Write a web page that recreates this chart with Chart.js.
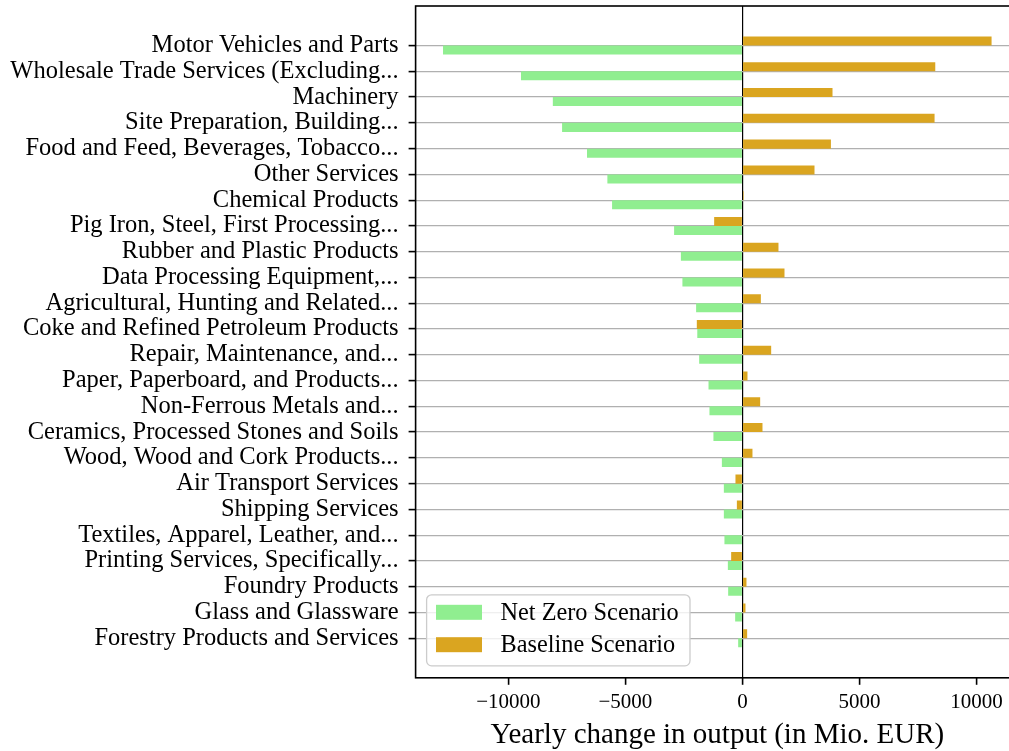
<!DOCTYPE html>
<html>
<head>
<meta charset="utf-8">
<script src="https://cdn.jsdelivr.net/npm/chart.js@4.4.0/dist/chart.umd.min.js"></script>
<style>
html, body { margin: 0; padding: 0; background: #fff; overflow: hidden; width: 1009px; height: 751px; }
canvas { display: block; }
</style>
</head>
<body>
<canvas id="c" width="1019" height="751"></canvas>
<script>
const categories = [
  'Motor Vehicles and Parts',
  'Wholesale Trade Services (Excluding...',
  'Machinery',
  'Site Preparation, Building...',
  'Food and Feed, Beverages, Tobacco...',
  'Other Services',
  'Chemical Products',
  'Pig Iron, Steel, First Processing...',
  'Rubber and Plastic Products',
  'Data Processing Equipment,...',
  'Agricultural, Hunting and Related...',
  'Coke and Refined Petroleum Products',
  'Repair, Maintenance, and...',
  'Paper, Paperboard, and Products...',
  'Non-Ferrous Metals and...',
  'Ceramics, Processed Stones and Soils',
  'Wood, Wood and Cork Products...',
  'Air Transport Services',
  'Shipping Services',
  'Textiles, Apparel, Leather, and...',
  'Printing Services, Specifically...',
  'Foundry Products',
  'Glass and Glassware',
  'Forestry Products and Services'
];
const netZero = [-12790, -9460, -8100, -7705, -6640, -5770, -5570, -2920, -2630, -2565, -1980, -1930, -1850, -1450, -1410, -1240, -880, -795, -795, -770, -624, -611, -312, -184];
const baseline = [10640, 8235, 3846, 8205, 3778, 3077, 50, -1209, 1538, 1795, 786, -1950, 1226, 214, 756, 855, 427, -299, -239, 0, -483, 171, 128, 200];
const xTicks = [-10000, -5000, 0, 5000, 10000];
const seriesNames = ['Net Zero Scenario', 'Baseline Scenario'];
const xTitle = 'Yearly change in output (in Mio. EUR)';

const NZ_COLOR = '#90ee90';
const BL_COLOR = '#daa520';
const FONT = '"Liberation Serif", "Times New Roman", serif';

// axis limits like matplotlib (5% margins)
const allVals = netZero.concat(baseline, [0]);
const lo = Math.min(...allVals), hi = Math.max(...allVals);
const span = hi - lo;
const xMin = lo - 0.05 * span, xMax = hi + 0.05 * span;
const half = 0.35;
const ySpan = (categories.length - 1) + 2 * half;
const yMin = -half - 0.05 * ySpan, yMax = categories.length - 1 + half + 0.05 * ySpan;

Chart.defaults.font.family = FONT;
Chart.defaults.color = '#000';

const framePlugin = {
  id: 'frame',
  afterDatasetsDraw(chart) {
    const { ctx, chartArea: ca } = chart;
    ctx.save();
    ctx.strokeStyle = '#000';
    ctx.lineWidth = 1.6;
    ctx.strokeRect(ca.left, ca.top, ca.right - ca.left, ca.bottom - ca.top);
    ctx.restore();
  }
};

const legendPlugin = {
  id: 'mplLegend',
  afterDraw(chart) {
    const { ctx, chartArea: ca } = chart;
    const fs = 24.3;
    const items = [
      { label: seriesNames[0], color: NZ_COLOR },
      { label: seriesNames[1], color: BL_COLOR }
    ];
    ctx.save();
    ctx.font = fs + 'px ' + FONT;
    const textW = Math.max(...items.map(i => ctx.measureText(i.label).width));
    const pad = 9.4, hl = 46, htp = 18.5;
    const w = pad + hl + htp + textW + pad + 2;
    const h = 71;
    const x = ca.left + 11, y = ca.bottom - 12 - h;
    ctx.beginPath();
    if (ctx.roundRect) ctx.roundRect(x, y, w, h, 5); else ctx.rect(x, y, w, h);
    ctx.fillStyle = 'rgba(255,255,255,0.8)';
    ctx.fill();
    ctx.strokeStyle = '#cccccc';
    ctx.lineWidth = 1.3;
    ctx.stroke();
    ctx.textBaseline = 'middle';
    ctx.textAlign = 'left';
    items.forEach((it, k) => {
      const cy = y + 17.5 + k * 32.4;
      ctx.fillStyle = it.color;
      ctx.fillRect(x + pad, cy - 7.5, hl, 15);
      ctx.fillStyle = '#000';
      ctx.fillText(it.label, x + pad + hl + htp, cy + 1);
    });
    ctx.restore();
  }
};

new Chart(document.getElementById('c'), {
  type: 'bar',
  data: {
    datasets: [
      {
        label: seriesNames[1],
        data: baseline.map((v, i) => ({ x: v, y: i })),
        backgroundColor: BL_COLOR,
        borderWidth: 0
      },
      {
        label: seriesNames[0],
        data: netZero.map((v, i) => ({ x: v, y: i })),
        backgroundColor: NZ_COLOR,
        borderWidth: 0
      }
    ]
  },
  options: {
    indexAxis: 'y',
    responsive: false,
    animation: false,
    devicePixelRatio: 1,
    layout: { padding: { left: 0, top: 6, right: 0, bottom: 0 } },
    datasets: { bar: { categoryPercentage: 0.7, barPercentage: 1.0 } },
    plugins: {
      legend: { display: false },
      tooltip: { enabled: false }
    },
    scales: {
      x: {
        type: 'linear',
        position: 'bottom',
        min: xMin,
        max: xMax,
        offset: false,
        z: 1,
        afterBuildTicks(scale) { scale.ticks = xTicks.map(v => ({ value: v })); },
        afterFit(scale) { scale.height = 73.2; scale.paddingLeft = 0; scale.paddingRight = 0; },
        border: { display: false },
        grid: {
          offset: false,
          drawOnChartArea: true,
          color: (c) => (c.tick && c.tick.value === 0 ? '#000' : 'rgba(0,0,0,0)'),
          lineWidth: 1.2,
          tickColor: '#000',
          tickWidth: 1.6,
          tickLength: 7
        },
        ticks: {
          autoSkip: false,
          maxRotation: 0,
          padding: 5,
          font: { size: 21 },
          color: '#000',
          callback: (v) => (v < 0 ? '\u2212' + Math.abs(v) : String(v))
        },
        title: {
          display: true,
          text: xTitle,
          color: '#000',
          font: { size: 29, lineHeight: 1 },
          padding: { top: 0, bottom: 1 }
        }
      },
      y: {
        type: 'linear',
        position: 'left',
        reverse: true,
        min: yMin,
        max: yMax,
        offset: false,
        afterBuildTicks(scale) { scale.ticks = categories.map((_, i) => ({ value: i })); },
        afterFit(scale) { scale.width = 415.6; scale.paddingTop = 0; scale.paddingBottom = 0; },
        border: { display: false },
        grid: {
          offset: false,
          color: '#b0b0b0',
          lineWidth: 1.2,
          tickColor: '#000',
          tickWidth: 1.6,
          tickLength: 7
        },
        ticks: {
          autoSkip: false,
          padding: 10,
          font: { size: 24.5 },
          color: '#000',
          callback: (v) => categories[v]
        }
      }
    }
  },
  plugins: [framePlugin, legendPlugin]
});
</script>
</body>
</html>
